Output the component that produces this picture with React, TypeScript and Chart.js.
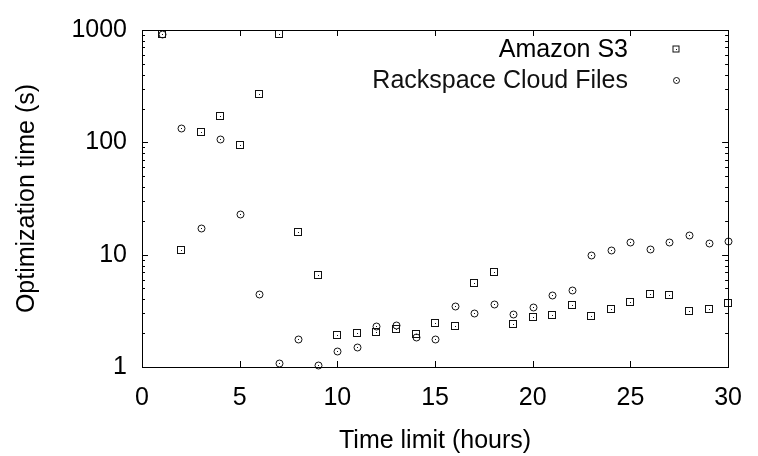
import React, { useEffect, useRef } from "react";
import { Chart, registerables } from "chart.js";

Chart.register(...registerables);

const hours = [1, 2, 3, 4, 5, 6, 7, 8, 9, 10, 11, 12, 13, 14, 15, 16, 17, 18, 19, 20, 21, 22, 23, 24, 25, 26, 27, 28, 29, 30];
const s3Times = [920, 11.0, 124, 172, 95, 270, 920, 15.9, 6.6, 1.93, 2.0, 2.06, 2.17, 1.97, 2.45, 2.32, 5.6, 7.0, 2.4, 2.77, 2.89, 3.59, 2.85, 3.28, 3.77, 4.47, 4.4, 3.15, 3.28, 3.71];
const rackspaceTimes = [920, 134, 17.4, 108, 22.9, 4.5, 1.08, 1.77, 1.035, 1.39, 1.51, 2.33, 2.36, 1.86, 1.78, 3.49, 3.05, 3.66, 2.94, 3.42, 4.38, 4.88, 9.88, 11.0, 13.0, 11.2, 13.0, 14.9, 12.6, 13.3];
const xTickValues = [0, 5, 10, 15, 20, 25, 30];
const yTickValues = [1, 10, 100, 1000];
const seriesLabels = ["Amazon S3", "Rackspace Cloud Files"];
const xTitle = "Time limit (hours)";
const yTitle = "Optimization time (s)";

const FONT = "Liberation Sans, Arial, sans-serif";
const FONT_SIZE = 25;
const INK = "#000";

function drawMarker(ctx: CanvasRenderingContext2D, kind: string, x: number, y: number, size: number) {
  const cx = Math.round(x);
  const cy = Math.round(y);
  const h = size / 2;
  ctx.strokeStyle = "#111";
  ctx.lineWidth = 1;
  if (kind === "square") {
    ctx.strokeRect(cx - h + 0.5, cy - h + 0.5, size - 1, size - 1);
  } else {
    ctx.beginPath();
    ctx.arc(cx + 0.5, cy + 0.5, h - 0.5, 0, Math.PI * 2);
    ctx.stroke();
  }
  ctx.fillStyle = "#111";
  ctx.fillRect(cx, cy, 1, 1);
}

const markerKinds = ["square", "circle"];

export default function App() {
  const ref = useRef<HTMLCanvasElement | null>(null);

  useEffect(() => {
    if (!ref.current) return;

    const markerPlugin = {
      id: "gnuplotMarkers",
      afterDatasetsDraw(chart: any) {
        const { ctx } = chart;
        ctx.save();
        chart.data.datasets.forEach((_ds: any, i: number) => {
          const meta = chart.getDatasetMeta(i);
          meta.data.forEach((pt: any) => {
            drawMarker(ctx, markerKinds[i], pt.x, pt.y, 8);
          });
        });
        ctx.restore();
      },
    };

    const framePlugin = {
      id: "gnuplotFrame",
      afterDraw(chart: any) {
        const { ctx, chartArea } = chart;
        const { left, right, top, bottom } = chartArea;
        const xs = chart.scales.x;
        const ys = chart.scales.y;
        ctx.save();
        ctx.strokeStyle = INK;
        ctx.lineWidth = 1;
        ctx.beginPath();
        for (const v of xTickValues) {
          const px = Math.round(xs.getPixelForValue(v)) + 0.5;
          ctx.moveTo(px, bottom);
          ctx.lineTo(px, bottom - 6);
          ctx.moveTo(px, top);
          ctx.lineTo(px, top + 6);
        }
        for (let d = 1; d <= 1000; d *= 10) {
          for (let m = 1; m <= 9; m++) {
            const v = d * m;
            if (v > 1000) break;
            const len = m === 1 ? 6 : 3;
            const py = Math.round(ys.getPixelForValue(v)) + 0.5;
            ctx.moveTo(left, py);
            ctx.lineTo(left + len, py);
            ctx.moveTo(right, py);
            ctx.lineTo(right - len, py);
          }
        }
        ctx.stroke();
        ctx.strokeRect(Math.round(left) + 0.5, Math.round(top) + 0.5, Math.round(right - left), Math.round(bottom - top));

        ctx.font = FONT_SIZE + "px " + FONT;
        ctx.fillStyle = INK;
        ctx.textAlign = "right";
        ctx.textBaseline = "middle";
        const legendRows = [49, 80];
        seriesLabels.forEach((label, i) => {
          ctx.fillText(label, 628, legendRows[i] + 1);
          drawMarker(ctx, markerKinds[i], 676, legendRows[i], 7);
        });
        ctx.restore();
      },
    };

    const chart = new Chart(ref.current, {
      type: "scatter",
      data: {
        datasets: [
          {
            label: seriesLabels[0],
            data: hours.map((h, i) => ({ x: h, y: s3Times[i] })),
            pointRadius: 0,
            showLine: false,
          },
          {
            label: seriesLabels[1],
            data: hours.map((h, i) => ({ x: h, y: rackspaceTimes[i] })),
            pointRadius: 0,
            showLine: false,
          },
        ],
      },
      options: {
        responsive: false,
        animation: false,
        events: [],
        layout: { padding: { left: 0, right: 20, top: 30, bottom: 0 } },
        plugins: {
          legend: { display: false },
          tooltip: { enabled: false },
        },
        scales: {
          x: {
            type: "linear",
            min: 0,
            max: 30,
            afterBuildTicks: (scale: any) => {
              scale.ticks = xTickValues.map((v) => ({ value: v }));
            },
            afterFit: (scale: any) => {
              scale.height = 89;
            },
            grid: { display: false, drawTicks: false },
            border: { display: false },
            ticks: {
              color: INK,
              font: { family: FONT, size: FONT_SIZE },
              padding: 16,
              maxRotation: 0,
              autoSkip: false,
            },
            title: {
              display: true,
              text: xTitle,
              color: INK,
              font: { family: FONT, size: FONT_SIZE },
              padding: { top: 0, bottom: 0 },
            },
          },
          y: {
            type: "logarithmic",
            min: 1,
            max: 1000,
            afterBuildTicks: (scale: any) => {
              scale.ticks = yTickValues.map((v) => ({ value: v }));
            },
            afterFit: (scale: any) => {
              scale.width = 142;
            },
            grid: { display: false, drawTicks: false },
            border: { display: false },
            ticks: {
              color: INK,
              font: { family: FONT, size: FONT_SIZE },
              padding: 15,
              autoSkip: false,
              callback: (v: any) => String(v),
            },
            title: {
              display: true,
              text: yTitle,
              color: INK,
              font: { family: FONT, size: FONT_SIZE },
              padding: { top: 12, bottom: 0 },
            },
          },
        },
      },
      plugins: [markerPlugin, framePlugin],
    } as any);

    return () => chart.destroy();
  }, []);

  return (
    <div style={{ position: "absolute", left: 0, top: 0, width: 758, height: 456, background: "#fff" }}>
      <canvas ref={ref} width={758} height={456} style={{ display: "block" }} />
    </div>
  );
}
